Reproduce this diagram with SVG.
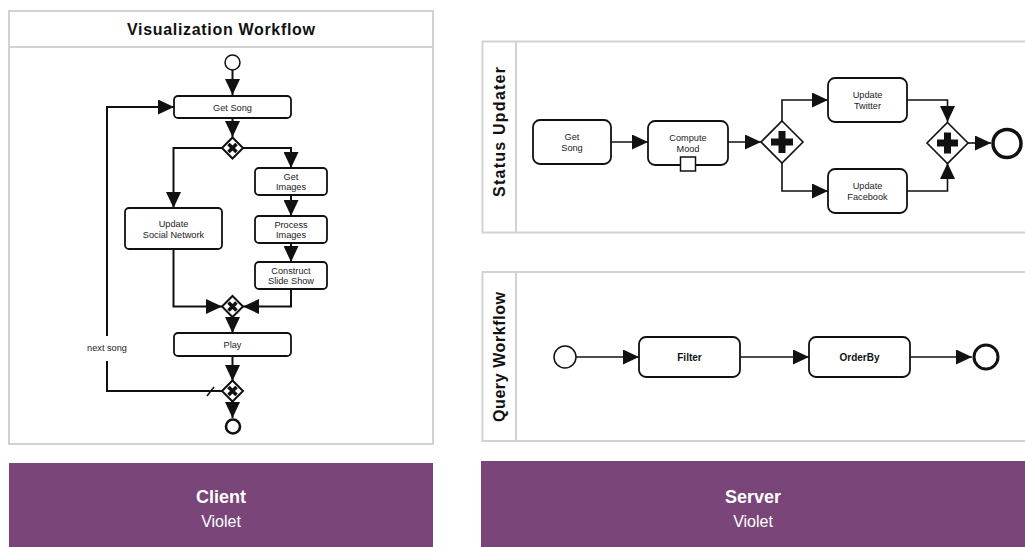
<svg xmlns="http://www.w3.org/2000/svg" width="1025" height="547" viewBox="0 0 1025 547">
<style>
.panel{fill:#fff;stroke:#d2d2d2;stroke-width:2}
.sep{stroke:#d2d2d2;stroke-width:2}
.task{fill:#fff;stroke:#111;stroke-width:1.8}
.lbl{font-family:"Liberation Sans",Arial,sans-serif;font-size:9.2px;fill:#222;text-anchor:middle}
.blbl{font-family:"Liberation Sans",Arial,sans-serif;font-size:10px;font-weight:bold;fill:#111;text-anchor:middle}
.title{font-family:"Liberation Sans",Arial,sans-serif;font-size:16px;font-weight:bold;fill:#111;text-anchor:middle}
.band{fill:#7a4578}
.bt{font-family:"Liberation Sans",Arial,sans-serif;fill:#fff;text-anchor:middle}
.conn{fill:none;stroke:#111;stroke-width:2}
.connr{fill:none;stroke:#111;stroke-width:1.6}
.gw{fill:#fff;stroke:#111;stroke-width:2}
.gx{stroke:#111;stroke-width:3.6}
.gwr{fill:#fff;stroke:#111;stroke-width:1.6}
</style>
<defs>
<marker id="arr" markerUnits="userSpaceOnUse" markerWidth="16" markerHeight="15" refX="16" refY="7.5" orient="auto">
<path d="M0,0 L16,7.5 L0,15 Z" fill="#111"/>
</marker>
</defs>

<!-- Client panel -->
<g id="client-panel">
<rect class="panel" x="9" y="11" width="424" height="433"/>
<line class="sep" x1="9" y1="47" x2="433" y2="47"/>
<text class="title" x="221" y="35" textLength="188" lengthAdjust="spacing">Visualization Workflow</text>
</g>

<!-- Server pools -->
<g id="pool-status">
<rect class="panel" x="482.5" y="41.5" width="560" height="191"/>
<line class="sep" x1="516" y1="41.5" x2="516" y2="232.5"/>
<text class="title" transform="translate(505,132) rotate(-90)" textLength="130" lengthAdjust="spacing">Status Updater</text>
</g>
<g id="pool-query">
<rect class="panel" x="482.5" y="272" width="560" height="169"/>
<line class="sep" x1="516" y1="272" x2="516" y2="441"/>
<text class="title" transform="translate(505,357) rotate(-90)" textLength="130" lengthAdjust="spacing">Query Workflow</text>
</g>

<!-- Connectors -->
<g id="connectors">
<path class="conn" d="M232.5,70 V95" marker-end="url(#arr)"/>
<path class="conn" d="M232.5,118 V137" marker-end="url(#arr)"/>
<path class="conn" d="M222,148 H173.5 V208" marker-end="url(#arr)"/>
<path class="conn" d="M243,148 H291 V168" marker-end="url(#arr)"/>
<path class="conn" d="M291,195 V216" marker-end="url(#arr)"/>
<path class="conn" d="M291,243 V262" marker-end="url(#arr)"/>
<path class="conn" d="M173.5,249 V306.5 H222" marker-end="url(#arr)"/>
<path class="conn" d="M291,289 V306.5 H243" marker-end="url(#arr)"/>
<path class="conn" d="M232.5,317 V333" marker-end="url(#arr)"/>
<path class="conn" d="M232.5,356 V381" marker-end="url(#arr)"/>
<path class="conn" d="M232.5,401 V418" marker-end="url(#arr)"/>
<path class="conn" d="M222,391 H107 V107 H174" marker-end="url(#arr)"/>
<line x1="207" y1="396" x2="214" y2="387" stroke="#111" stroke-width="1.5"/>
<rect x="84" y="336" width="46" height="25" fill="#fff"/>
<text class="lbl" x="107" y="351">next song</text>

<path class="connr" d="M611,142 H648" marker-end="url(#arr)"/>
<path class="connr" d="M728,142 H761" marker-end="url(#arr)"/>
<path class="connr" d="M782,121 V100 H828" marker-end="url(#arr)"/>
<path class="connr" d="M782,163 V191 H828" marker-end="url(#arr)"/>
<path class="connr" d="M907,100 H947.5 V122" marker-end="url(#arr)"/>
<path class="connr" d="M907,191 H947.5 V163" marker-end="url(#arr)"/>
<path class="connr" d="M968,143 H991" marker-end="url(#arr)"/>

<path class="connr" d="M576,357 H639" marker-end="url(#arr)"/>
<path class="connr" d="M740,357 H809" marker-end="url(#arr)"/>
<path class="connr" d="M910,357 H972" marker-end="url(#arr)"/>
</g>

<!-- Client nodes -->
<g id="c-start"><circle cx="232.5" cy="62.5" r="7.5" fill="#fff" stroke="#111" stroke-width="1.5"/></g>
<g id="c-getsong"><rect class="task" x="174" y="96" width="117" height="22" rx="4"/><text class="lbl" x="232.5" y="110.5">Get Song</text></g>
<g id="c-gw1"><path class="gw" d="M232.5,137.5 L243,148 L232.5,158.5 L222,148 Z"/><path class="gx" d="M228.5,144 L236.5,152 M236.5,144 L228.5,152"/></g>
<g id="c-social"><rect class="task" x="125" y="208" width="97" height="41" rx="4"/><text class="lbl" x="173.5" y="227">Update</text><text class="lbl" x="173.5" y="237.5">Social Network</text></g>
<g id="c-getimages"><rect class="task" x="255" y="168" width="72" height="27" rx="4"/><text class="lbl" x="291" y="180">Get</text><text class="lbl" x="291" y="190">Images</text></g>
<g id="c-process"><rect class="task" x="255" y="216" width="72" height="27" rx="4"/><text class="lbl" x="291" y="228">Process</text><text class="lbl" x="291" y="238">Images</text></g>
<g id="c-construct"><rect class="task" x="255" y="262" width="72" height="27" rx="4"/><text class="lbl" x="291" y="274">Construct</text><text class="lbl" x="291" y="284">Slide Show</text></g>
<g id="c-gw2"><path class="gw" d="M232.5,296 L243,306.5 L232.5,317 L222,306.5 Z"/><path class="gx" d="M228.5,302.5 L236.5,310.5 M236.5,302.5 L228.5,310.5"/></g>
<g id="c-play"><rect class="task" x="174" y="333" width="117" height="23" rx="4"/><text class="lbl" x="232.5" y="348">Play</text></g>
<g id="c-gw3"><path class="gw" d="M232.5,380.5 L243,391 L232.5,401.5 L222,391 Z"/><path class="gx" d="M228.5,387 L236.5,395 M236.5,387 L228.5,395"/></g>
<g id="c-end"><circle cx="233" cy="426.5" r="7" fill="#fff" stroke="#111" stroke-width="2.6"/></g>

<!-- Status Updater nodes -->
<g id="s-getsong"><rect class="task" x="533" y="120" width="78" height="44" rx="7"/><text class="lbl" x="572" y="140">Get</text><text class="lbl" x="572" y="150.5">Song</text></g>
<g id="s-mood"><rect class="task" x="648" y="121" width="80" height="44" rx="7"/><text class="lbl" x="688" y="141">Compute</text><text class="lbl" x="688" y="151.5">Mood</text><rect x="680.5" y="157" width="15" height="14" fill="#fff" stroke="#111" stroke-width="1.5"/></g>
<g id="s-gw1"><path class="gwr" d="M782,121 L803,142 L782,163 L761,142 Z"/><path d="M778.5,131 H785.5 V138.5 H793 V145.5 H785.5 V153 H778.5 V145.5 H771 V138.5 H778.5 Z" fill="#111"/></g>
<g id="s-twitter"><rect class="task" x="828" y="78" width="79" height="44" rx="7"/><text class="lbl" x="867.5" y="98">Update</text><text class="lbl" x="867.5" y="108.5">Twitter</text></g>
<g id="s-facebook"><rect class="task" x="828" y="169" width="79" height="44" rx="7"/><text class="lbl" x="867.5" y="189">Update</text><text class="lbl" x="867.5" y="199.5">Facebook</text></g>
<g id="s-gw2"><path class="gwr" d="M947.5,122.5 L968,143 L947.5,163.5 L927,143 Z"/><path d="M944,132.5 H951 V139.5 H958 V146.5 H951 V153.5 H944 V146.5 H937 V139.5 H944 Z" fill="#111"/></g>
<g id="s-end"><circle cx="1007" cy="143.5" r="14" fill="#fff" stroke="#111" stroke-width="3.5"/></g>

<!-- Query nodes -->
<g id="q-start"><circle cx="565" cy="357" r="11" fill="#fff" stroke="#111" stroke-width="1.5"/></g>
<g id="q-filter"><rect class="task" x="639" y="337" width="101" height="40" rx="7"/><text class="blbl" x="689.5" y="360.5">Filter</text></g>
<g id="q-orderby"><rect class="task" x="809" y="337" width="101" height="40" rx="7"/><text class="blbl" x="859.5" y="360.5">OrderBy</text></g>
<g id="q-end"><circle cx="986" cy="357" r="12" fill="#fff" stroke="#111" stroke-width="3"/></g>

<!-- Bands -->
<g id="band-client"><rect class="band" x="9" y="463" width="424" height="84"/><text class="bt" x="221" y="503" font-size="18" font-weight="bold">Client</text><text class="bt" x="221" y="527" font-size="16">Violet</text></g>
<g id="band-server"><rect class="band" x="481" y="461" width="544" height="86"/><text class="bt" x="753" y="503" font-size="18" font-weight="bold">Server</text><text class="bt" x="753" y="527" font-size="16">Violet</text></g>
</svg>
